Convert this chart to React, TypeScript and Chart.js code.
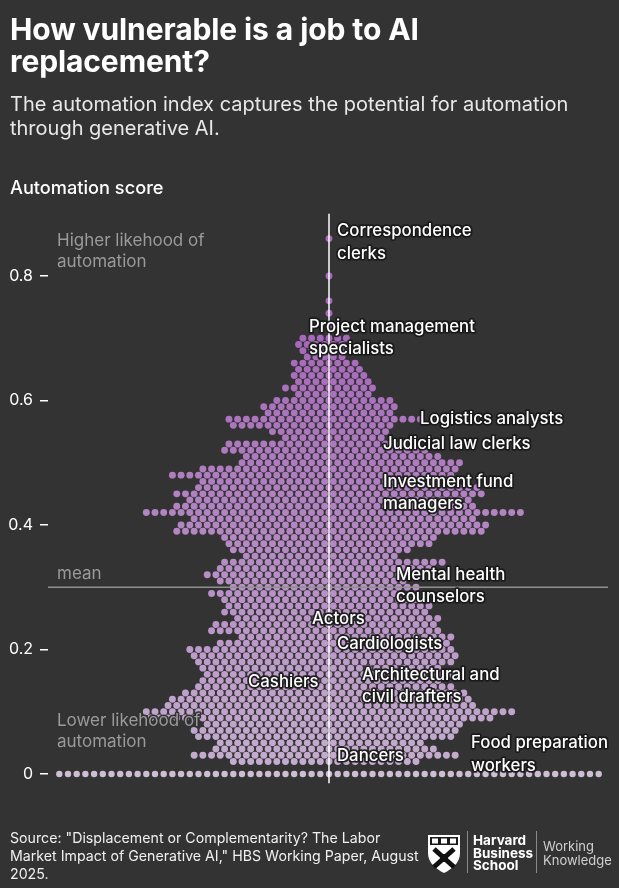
import React, { useEffect, useRef } from "react";
import { Chart, registerables } from "chart.js";

Chart.register(...registerables);

const FONT = "Inter, 'Noto Sans', 'DejaVu Sans', sans-serif";

// ---- data ----
// each row: automation score, number of occupations left / right of the centre line
const rowScores = [
  0.0, 0.02, 0.03, 0.04, 0.05, 0.06, 0.07, 0.08, 0.09, 0.1, 0.11, 0.12, 0.13, 0.14, 0.15, 0.16, 0.17,
  0.18, 0.19, 0.2, 0.21, 0.22, 0.23, 0.24, 0.25, 0.26, 0.27, 0.28, 0.29, 0.3, 0.31, 0.32, 0.33, 0.34,
  0.35, 0.36, 0.37, 0.38, 0.39, 0.4, 0.41, 0.42, 0.43, 0.44, 0.45, 0.46, 0.47, 0.48, 0.49, 0.5, 0.51,
  0.52, 0.53, 0.54, 0.55, 0.56, 0.57, 0.58, 0.59, 0.6, 0.61, 0.62, 0.63, 0.64, 0.65, 0.66, 0.67, 0.68,
  0.69, 0.7, 0.72, 0.74, 0.76, 0.8, 0.86,
];
const rowLeft = [
  31, 11, 16, 13, 13, 15, 16, 14, 21, 21, 19, 18, 17, 15, 15, 14, 15,
  15, 16, 16, 13, 10, 14, 13, 11, 12, 12, 12, 14, 11, 13, 14, 13, 12,
  10, 11, 12, 12, 18, 17, 16, 21, 18, 16, 18, 15, 15, 18, 15, 10, 10,
  12, 12, 5, 7, 11, 12, 7, 8, 6, 4, 5, 4, 4, 4, 4, 3, 3,
  4, 3, 0, 0, 0, 0, 0,
];
const rowRight = [
  31, 10, 15, 12, 11, 14, 15, 15, 19, 21, 17, 16, 16, 14, 13, 14, 13,
  14, 15, 14, 14, 14, 13, 12, 13, 11, 12, 10, 8, 10, 9, 8, 12, 13,
  8, 9, 12, 12, 18, 18, 17, 22, 17, 16, 18, 17, 15, 14, 15, 15, 13,
  11, 8, 6, 7, 7, 11, 7, 8, 7, 5, 5, 5, 4, 4, 3, 2, 3,
  2, 2, 0, 0, 0, 0, 0,
];
const yTicks = [0, 0.2, 0.4, 0.6, 0.8];
const meanScore = 0.3;

const occupationNames = [
  ["Correspondence", "clerks"],
  ["Project management", "specialists"],
  ["Logistics analysts"],
  ["Judicial law clerks"],
  ["Investment fund", "managers"],
  ["Mental health", "counselors"],
  ["Actors"],
  ["Cardiologists"],
  ["Architectural and", "civil drafters"],
  ["Cashiers"],
  ["Dancers"],
  ["Food preparation", "workers"],
];
const occupationScores = [0.86, 0.7, 0.57, 0.53, 0.45, 0.3, 0.25, 0.21, 0.14, 0.15, 0.03, 0.03];

// label layout (pixels from the centre line / dot) – style only
const labelDx = [8, -20, 91, 54, 54, 67, -17, 8, 33, -81, 8, 142];
const labelDy = [4, 0, 0, 0, -1, -1, 1, 1, -1, 1, 1, -1];

function dotColor(y: number): string {
  if (y === 0) return "rgb(206,190,212)";
  const t = Math.min(1, Math.max(0, (y - 0.02) / 0.68));
  const a = [196, 172, 206];
  const b = [166, 104, 186];
  const c = a.map((v, i) => Math.round(v + (b[i] - v) * t));
  return `rgb(${c[0]},${c[1]},${c[2]})`;
}

function buildPoints() {
  const pts: { x: number; y: number }[] = [];
  rowScores.forEach((s, i) => {
    const odd = Math.round(s * 100) % 2 === 1;
    const L = rowLeft[i];
    const R = rowRight[i];
    if (odd) {
      for (let k = L; k >= 1; k--) pts.push({ x: -(k - 0.5), y: s });
      for (let k = 1; k <= R; k++) pts.push({ x: k - 0.5, y: s });
    } else {
      for (let k = L; k >= 1; k--) pts.push({ x: -k, y: s });
      pts.push({ x: 0, y: s });
      for (let k = 1; k <= R; k++) pts.push({ x: k, y: s });
    }
  });
  return pts;
}

const overlayPlugin = {
  id: "overlay",
  afterDatasetsDraw(chart: any) {
    const { ctx, chartArea, scales } = chart;
    const xs = scales.x;
    const ys = scales.y;
    const cx = xs.getPixelForValue(0);
    ctx.save();
    // mean line
    const ym = ys.getPixelForValue(meanScore);
    ctx.strokeStyle = "#8f8f8f";
    ctx.lineWidth = 1.5;
    ctx.beginPath();
    ctx.moveTo(chartArea.left, ym);
    ctx.lineTo(chartArea.right, ym);
    ctx.stroke();
    // centre line
    ctx.strokeStyle = "#ffffff";
    ctx.lineWidth = 1.5;
    ctx.beginPath();
    ctx.moveTo(cx, chartArea.top);
    ctx.lineTo(cx, chartArea.bottom);
    ctx.stroke();

    ctx.textBaseline = "middle";
    ctx.textAlign = "left";
    ctx.lineJoin = "round";

    // gray annotations
    ctx.font = `17px ${FONT}`;
    const gx = chartArea.left + 9;
    const gray = (lines: string[], yc: number) => {
      lines.forEach((ln, i) => {
        const y = yc + (i - (lines.length - 1) / 2) * 21;
        ctx.lineWidth = 3;
        ctx.strokeStyle = "#333333";
        ctx.strokeText(ln, gx, y);
        ctx.fillStyle = "#9a9a9a";
        ctx.fillText(ln, gx, y);
      });
    };
    gray(["Higher likehood of", "automation"], ys.getPixelForValue(0.84));
    gray(["mean"], ym - 13);
    gray(["Lower likehood of", "automation"], ys.getPixelForValue(0.068));

    // occupation labels
    ctx.font = `500 16.8px ${FONT}`;
    occupationNames.forEach((lines, j) => {
      const yc = ys.getPixelForValue(occupationScores[j]) + labelDy[j];
      const x = cx + labelDx[j];
      lines.forEach((ln, i) => {
        const y = yc + (i - (lines.length - 1) / 2) * 22.5;
        ctx.lineWidth = 3.5;
        ctx.strokeStyle = "rgba(25,25,25,0.95)";
        ctx.strokeText(ln, x, y);
        ctx.fillStyle = "#ffffff";
        ctx.fillText(ln, x, y);
      });
    });
    ctx.restore();
  },
};

function ChartCanvas() {
  const ref = useRef<HTMLCanvasElement | null>(null);
  useEffect(() => {
    if (!ref.current) return;
    Chart.defaults.font.family = FONT;
    const chart = new Chart(ref.current, {
      type: "scatter",
      data: {
        datasets: [
          {
            data: buildPoints(),
            pointRadius: (c: any) => (c.raw && c.raw.y === 0 ? 3.2 : 3.45),
            pointHoverRadius: (c: any) => (c.raw && c.raw.y === 0 ? 3.2 : 3.45),
            pointBackgroundColor: (c: any) => dotColor(c.raw ? c.raw.y : 0),
            pointBorderWidth: 0,
            clip: false as any,
          },
        ],
      },
      options: {
        responsive: false,
        animation: false,
        events: [],
        layout: { padding: { top: 213.7, bottom: 104.7, left: 0, right: 11 } },
        plugins: { legend: { display: false }, tooltip: { enabled: false } },
        scales: {
          x: { type: "linear", display: false, min: -32.3, max: 32.07 },
          y: {
            type: "linear",
            min: -0.015,
            max: 0.9,
            afterBuildTicks: (s: any) => {
              s.ticks = yTicks.map((v) => ({ value: v }));
            },
            afterFit: (s: any) => {
              s.width = 48;
            },
            border: { display: false },
            grid: {
              drawOnChartArea: false,
              drawTicks: true,
              tickLength: 8,
              color: "#ffffff",
              lineWidth: 1.5,
            },
            ticks: {
              color: "#ffffff",
              padding: 7,
              font: { size: 16, family: FONT },
              callback: (v: any) => (v === 0 ? "0" : Number(v).toFixed(1)),
            },
          },
        },
      },
      plugins: [overlayPlugin],
    });
    return () => chart.destroy();
  }, []);
  return (
    <canvas
      ref={ref}
      width={619}
      height={888}
      style={{ position: "absolute", left: 0, top: 0, width: 619, height: 888 }}
    />
  );
}

function Shield() {
  return (
    <svg width="34" height="40" viewBox="0 0 34 40" style={{ position: "absolute", left: 427, top: 834 }}>
      <path d="M1 1 H33 V19 C33 29 25 35 17 39 C9 35 1 29 1 19 Z" fill="#ffffff" />
      <rect x="3" y="3" width="28" height="8" fill="#1a1a1a" />
      <rect x="5" y="4.5" width="6" height="5" fill="#ffffff" />
      <rect x="14" y="4.5" width="6" height="5" fill="#ffffff" />
      <rect x="23" y="4.5" width="6" height="5" fill="#ffffff" />
      <path d="M7 15 L27 33 M27 15 L7 33" stroke="#111" strokeWidth="5" />
      <rect x="13" y="20" width="8" height="8" fill="#111" />
    </svg>
  );
}

export default function App() {
  return (
    <div
      style={{
        position: "absolute",
        left: 0,
        top: 0,
        width: 619,
        height: 888,
        background: "#333333",
        fontFamily: FONT,
        overflow: "hidden",
      }}
    >
      <ChartCanvas />
      <div
        style={{
          position: "absolute",
          left: 10,
          top: 13,
          color: "#ffffff",
          fontSize: 30,
          fontWeight: 700,
          lineHeight: "32px",
          width: 610,
          letterSpacing: "-0.1px",
        }}
      >
        How vulnerable is a job to AI
        <br />
        replacement?
      </div>
      <div
        style={{
          position: "absolute",
          left: 10,
          top: 92,
          color: "#e8e8e8",
          fontSize: 20,
          lineHeight: "24px",
          width: 610,
        }}
      >
        The automation index captures the potential for automation
        <br />
        through generative AI.
      </div>
      <div
        style={{
          position: "absolute",
          left: 10,
          top: 177,
          color: "#ffffff",
          fontSize: 18.2,
          lineHeight: "20px",
          fontWeight: 500,
        }}
      >
        Automation score
      </div>
      <div
        style={{
          position: "absolute",
          left: 10,
          top: 829,
          color: "#f0f0f0",
          fontSize: 14.2,
          lineHeight: "18px",
          width: 420,
        }}
      >
        Source: "Displacement or Complementarity? The Labor
        <br />
        Market Impact of Generative AI," HBS Working Paper, August
        <br />
        2025.
      </div>
      <Shield />
      <div style={{ position: "absolute", left: 467, top: 831, width: 1, height: 42, background: "#8a8a8a" }} />
      <div
        style={{
          position: "absolute",
          left: 473,
          top: 834,
          color: "#ffffff",
          fontSize: 13.5,
          fontWeight: 700,
          lineHeight: "12.5px",
        }}
      >
        Harvard
        <br />
        Business
        <br />
        School
      </div>
      <div style={{ position: "absolute", left: 536, top: 831, width: 1, height: 42, background: "#8a8a8a" }} />
      <div
        style={{
          position: "absolute",
          left: 543,
          top: 840,
          color: "#d0d0d0",
          fontSize: 13,
          lineHeight: "13.5px",
        }}
      >
        Working
        <br />
        Knowledge
      </div>
    </div>
  );
}
